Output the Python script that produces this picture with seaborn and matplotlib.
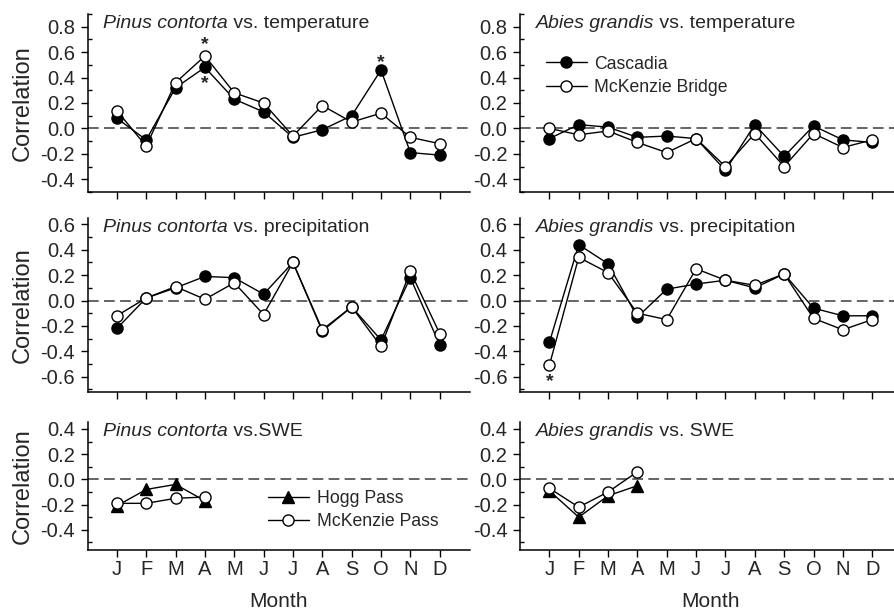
import numpy as np
import pandas as pd
import matplotlib
matplotlib.use("Agg")
import matplotlib.pyplot as plt
import seaborn as sns
from matplotlib.ticker import MultipleLocator, FixedLocator

# Month labels and positions
months = ["J", "F", "M", "A", "M", "J", "J", "A", "S", "O", "N", "D"]
month_pos = list(range(1, 13))
swe_pos = [1, 2, 3, 4]

# Pinus contorta vs. temperature
pc_temp_cascadia = [0.08, -0.09, 0.32, 0.48, 0.23, 0.13, -0.07, -0.01, 0.10, 0.46, -0.19, -0.21]
pc_temp_mckenzie = [0.14, -0.14, 0.36, 0.57, 0.28, 0.20, -0.06, 0.18, 0.05, 0.12, -0.07, -0.12]
# Abies grandis vs. temperature
ag_temp_cascadia = [-0.08, 0.03, 0.01, -0.07, -0.06, -0.08, -0.33, 0.03, -0.22, 0.02, -0.09, -0.11]
ag_temp_mckenzie = [0.00, -0.05, -0.02, -0.11, -0.19, -0.08, -0.30, -0.04, -0.30, -0.04, -0.15, -0.09]
# Pinus contorta vs. precipitation
pc_prec_cascadia = [-0.22, 0.02, 0.10, 0.19, 0.18, 0.05, 0.30, -0.24, -0.05, -0.31, 0.18, -0.35]
pc_prec_mckenzie = [-0.12, 0.02, 0.11, 0.01, 0.14, -0.11, 0.30, -0.23, -0.05, -0.36, 0.23, -0.26]
# Abies grandis vs. precipitation
ag_prec_cascadia = [-0.33, 0.44, 0.29, -0.13, 0.09, 0.13, 0.16, 0.10, 0.21, -0.06, -0.12, -0.12]
ag_prec_mckenzie = [-0.51, 0.34, 0.22, -0.10, -0.15, 0.25, 0.16, 0.12, 0.21, -0.14, -0.23, -0.15]
# Snow water equivalent (Jan-Apr)
pc_swe_hogg = [-0.21, -0.08, -0.04, -0.17]
pc_swe_mckenzie = [-0.19, -0.19, -0.15, -0.14]
ag_swe_hogg = [-0.09, -0.30, -0.13, -0.05]
ag_swe_mckenzie = [-0.07, -0.22, -0.10, 0.06]

temp_labels = ["Cascadia", "McKenzie Bridge"]
swe_labels = ["Hogg Pass", "McKenzie Pass"]

sns.set_style("ticks")
plt.rcParams["font.family"] = ["Liberation Sans", "DejaVu Sans"]
plt.rcParams["axes.unicode_minus"] = False

W, H = 894, 611
fig = plt.figure(figsize=(W / 100, H / 100), dpi=100)


def make_axes(left, top, right, bottom):
    return fig.add_axes([left / W, 1 - bottom / H, (right - left) / W, (bottom - top) / H])


col_px = [(87.5, 470.0), (520.0, 894.0)]
row_px = [(14.0, 192.0), (218.0, 392.0), (422.0, 550.0)]
ylims = [(-0.5, 0.9), (-0.72, 0.65), (-0.56, 0.455)]
yticks = [np.arange(-0.4, 0.81, 0.2), np.arange(-0.6, 0.61, 0.2), np.arange(-0.4, 0.41, 0.2)]
month_px = 29.35

axes = {}
for r, (top, bottom) in enumerate(row_px):
    for c, (left, right) in enumerate(col_px):
        ax = make_axes(left, top, right, bottom)
        axes[(r, c)] = ax
        ax.set_xlim(0, (right - left) / month_px)
        ax.set_ylim(*ylims[r])
        ax.axhline(0, color="#3a3a3a", lw=1.1, ls=(0, (7, 3.5)), zorder=1)
        ax.xaxis.set_major_locator(FixedLocator(month_pos))
        ax.yaxis.set_major_locator(FixedLocator(yticks[r]))
        ax.yaxis.set_minor_locator(MultipleLocator(0.1))
        ax.set_yticklabels([f"{v:.1f}" for v in yticks[r]])
        ax.tick_params(axis="both", which="major", direction="out", length=5,
                       width=1.0, labelsize=14.5, color="black", pad=4)
        ax.tick_params(axis="y", which="minor", direction="in", length=3,
                       width=1.0, color="black")
        if r == 2:
            ax.set_xticklabels(months)
            ax.tick_params(axis="x", pad=2.5)
            ax.set_xlabel("Month", fontsize=15)
            ax.xaxis.set_label_coords(6.5 / ax.get_xlim()[1], -0.33)
        else:
            ax.set_xticklabels([])
        if c == 0:
            ax.set_ylabel("Correlation", fontsize=17)
            ax.yaxis.set_label_coords(-0.14, 0.5)
        for s in ("top", "right"):
            ax.spines[s].set_visible(False)
        for s in ("left", "bottom"):
            ax.spines[s].set_linewidth(1.1)
            ax.spines[s].set_color("black")


def draw_pair(ax, x, filled, hollow, filled_marker, labels):
    sns.lineplot(x=x, y=filled, ax=ax, color="black", lw=1.0, marker=filled_marker,
                 markersize=8 if filled_marker == "o" else 8.5,
                 markerfacecolor="black", markeredgecolor="black", mew=1.0,
                 label=labels[0], legend=False, zorder=3)
    sns.lineplot(x=x, y=hollow, ax=ax, color="black", lw=1.0, marker="o", markersize=8,
                 markerfacecolor="white", markeredgecolor="black", mew=1.0,
                 label=labels[1], legend=False, zorder=4)


draw_pair(axes[(0, 0)], month_pos, pc_temp_cascadia, pc_temp_mckenzie, "o", temp_labels)
draw_pair(axes[(0, 1)], month_pos, ag_temp_cascadia, ag_temp_mckenzie, "o", temp_labels)
draw_pair(axes[(1, 0)], month_pos, pc_prec_cascadia, pc_prec_mckenzie, "o", temp_labels)
draw_pair(axes[(1, 1)], month_pos, ag_prec_cascadia, ag_prec_mckenzie, "o", temp_labels)
draw_pair(axes[(2, 0)], swe_pos, pc_swe_hogg, pc_swe_mckenzie, "^", swe_labels)
draw_pair(axes[(2, 1)], swe_pos, ag_swe_hogg, ag_swe_mckenzie, "^", swe_labels)

# Panel titles: italic species name followed by the climate variable
titles = {
    (0, 0): ("Pinus contorta", " vs. temperature"),
    (0, 1): ("Abies grandis", " vs. temperature"),
    (1, 0): ("Pinus contorta", " vs. precipitation"),
    (1, 1): ("Abies grandis", " vs. precipitation"),
    (2, 0): ("Pinus contorta", " vs.SWE"),
    (2, 1): ("Abies grandis", " vs. SWE"),
}
for key, (species, rest) in titles.items():
    ax = axes[key]
    x0 = 15.5 / (ax.get_window_extent().width)
    t = ax.text(x0, 0.995, species, transform=ax.transAxes, fontsize=14,
                style="italic", va="top", ha="left")
    ax.annotate(rest, xy=(1, 0), xycoords=t, fontsize=14, va="bottom", ha="left")

# Significant correlations
def star(ax, x, y, dy):
    ax.annotate("*", xy=(x, y), xytext=(0, dy), textcoords="offset points",
                ha="center", va="center", fontsize=14, fontweight="bold", zorder=2)

star(axes[(0, 0)], 4, pc_temp_mckenzie[3], 8)
star(axes[(0, 0)], 4, pc_temp_cascadia[3], -12)
star(axes[(0, 0)], 10, pc_temp_cascadia[9], 5)
star(axes[(1, 1)], 1, ag_prec_mckenzie[0], -12)

# Legends
leg_kw = dict(frameon=False, fontsize=12.7, handlelength=2.3, handletextpad=0.45,
              labelspacing=0.35, borderpad=0, borderaxespad=0, loc="center left")
h, l = axes[(0, 1)].get_legend_handles_labels()
axes[(0, 1)].legend(h, l, bbox_to_anchor=(0.0695, 0.654), **leg_kw)
h, l = axes[(2, 0)].get_legend_handles_labels()
axes[(2, 0)].legend(h, l, bbox_to_anchor=(0.472, 0.3125), **leg_kw)

fig.savefig("out.png", dpi=100)
